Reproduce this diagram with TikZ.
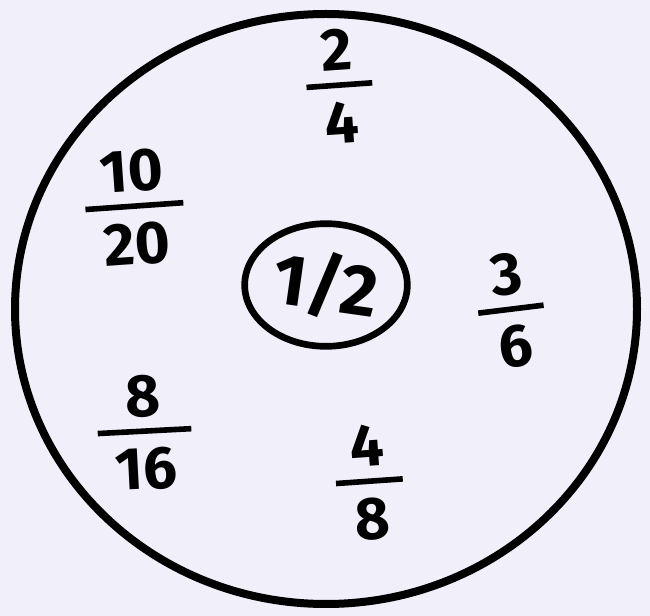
\documentclass[tikz,border=0pt]{standalone}
\usepackage{fontspec}
\usetikzlibrary{shapes.geometric}
\setmainfont{Fira Sans}
\definecolor{paper}{RGB}{241,239,250}
\newcommand\hfr[2]{{\setlength\arrayrulewidth{4.2pt}\renewcommand\arraystretch{0.85}\begin{tabular}{@{\hspace{12pt}}c@{\hspace{12pt}}}#1\\[-3pt]\hline\rule{0pt}{0.92em}#2\end{tabular}}}
\begin{document}
\begin{tikzpicture}[x=0.75pt,y=-0.75pt,
  frac/.style={font=\fontsize{45}{47}\selectfont\bfseries, inner sep=0pt, text=black},
  ring/.style={draw=black, line width=6pt}]
\fill[paper] (0,0) rectangle (650,616);
\useasboundingbox (0,0) rectangle (650,616);
\draw[ring] (326,309) ellipse [x radius=311, y radius=295];
\node[ring, ellipse, line width=5pt, minimum width=122pt, minimum height=92pt, inner sep=0pt,
  font=\fontsize{54}{56}\selectfont\bfseries] (half) at (326,285) {\rotatebox{-8}{1/2}};
\node[frac, rotate=4] (f24) at (340,94) {\hfr{2}{4}};
\node[frac, rotate=4] (f1020) at (135,215) {\hfr{10}{20}};
\node[frac, rotate=7] (f36) at (512,318) {\hfr{3}{6}};
\node[frac, rotate=3] (f816) at (145,440) {\hfr{8}{16}};
\node[frac, rotate=4] (f48) at (370,490) {\hfr{4}{8}};
\end{tikzpicture}
\end{document}
